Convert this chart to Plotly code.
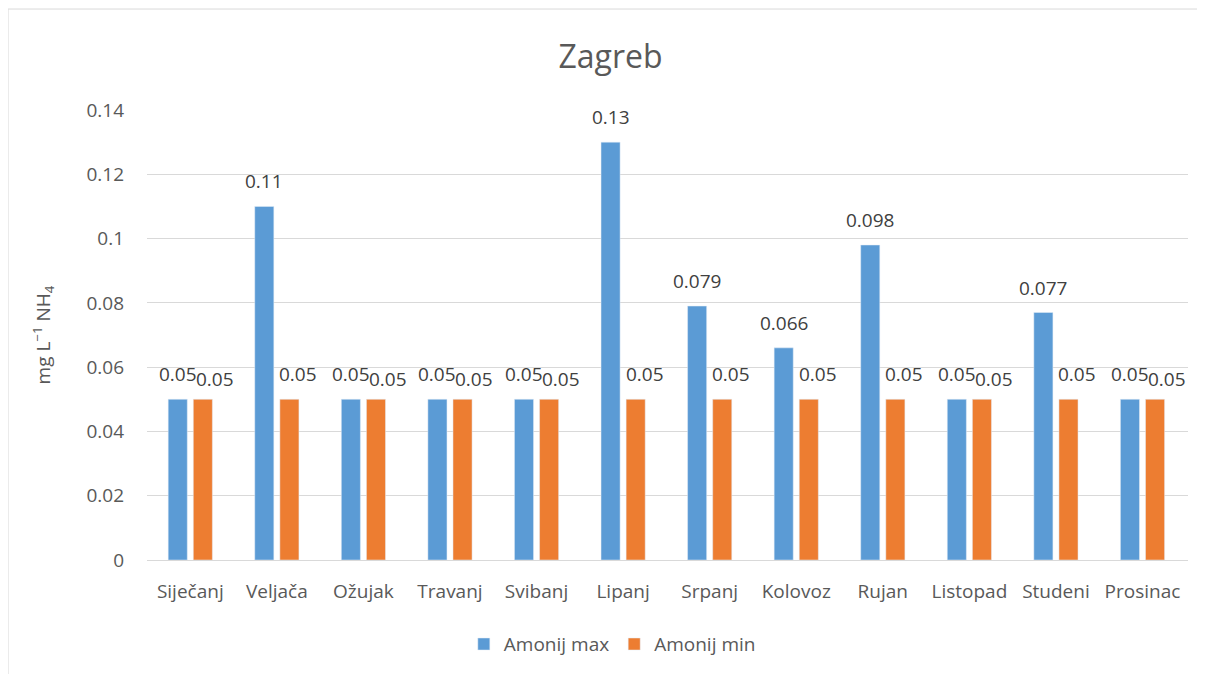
import plotly.graph_objects as go

# Monthly ammonium values (mg/L NH4), Zagreb
months = ['Siječanj', 'Veljača', 'Ožujak', 'Travanj', 'Svibanj', 'Lipanj',
          'Srpanj', 'Kolovoz', 'Rujan', 'Listopad', 'Studeni', 'Prosinac']
amonij_max = [0.05, 0.11, 0.05, 0.05, 0.05, 0.13, 0.079, 0.066, 0.098, 0.05, 0.077, 0.05]
amonij_min = [0.05, 0.05, 0.05, 0.05, 0.05, 0.05, 0.05, 0.05, 0.05, 0.05, 0.05, 0.05]
y_ticks = [0, 0.02, 0.04, 0.06, 0.08, 0.1, 0.12, 0.14]
y_tick_text = ['0', '0.02', '0.04', '0.06', '0.08', '0.1', '0.12', '0.14']

font_family = 'Open Sans, Noto Sans, sans-serif'
grey = '#595959'
label_col = '#404040'
fs = 19

fig = go.Figure()
fig.add_trace(go.Bar(x=months, y=amonij_max, name='Amonij max', marker_color='#5B9BD5'))
fig.add_trace(go.Bar(x=months, y=amonij_min, name='Amonij min', marker_color='#ED7D31'))

# Data labels, placed like Excel does (orange nudged right / down when they collide)
for m, hi, lo in zip(months, amonij_max, amonij_min):
    same = hi == lo
    fig.add_annotation(x=m, y=hi, text=f'{hi:g}', showarrow=False,
                       xshift=-12.5, yshift=25, yanchor='middle',
                       font=dict(size=fs, color=label_col))
    fig.add_annotation(x=m, y=lo, text=f'{lo:g}', showarrow=False,
                       xshift=12.5 + (12 if same else 9), yshift=20 if same else 25,
                       yanchor='middle', font=dict(size=fs, color=label_col))

# Outer chart border
fig.add_shape(type='rect', xref='paper', yref='paper',
              x0=-0.1335, x1=1.0096, y0=-0.3, y1=1.2244,
              line=dict(color='#d9d9d9', width=1), layer='below')

fig.update_layout(
    width=1205, height=674,
    margin=dict(l=139, r=25, t=102, b=122),
    title=dict(text='Zagreb', x=0.5, xanchor='center', y=0.927, yanchor='middle',
               font=dict(size=32, color=grey, family=font_family)),
    font=dict(family=font_family, color=grey, size=fs),
    plot_bgcolor='white', paper_bgcolor='white',
    barmode='group', bargap=0.42, bargroupgap=0.24,
    yaxis=dict(range=[0, 0.14], tickvals=y_ticks, ticktext=y_tick_text,
               gridcolor='#d9d9d9', gridwidth=1, zeroline=False,
               showline=False, ticks='', ticklabelstandoff=22, automargin=False,
               tickfont=dict(size=fs, color=grey),
               title=dict(text='mg L<sup>−1</sup> NH<sub>4</sub>', standoff=30,
                          font=dict(size=fs, color=grey))),
    xaxis=dict(showline=True, linecolor='#d9d9d9', linewidth=1, ticks='',
               automargin=False, ticklabelstandoff=14,
               tickfont=dict(size=fs, color=grey)),
    legend=dict(orientation='h', x=0.447, xanchor='center', y=-0.187, yanchor='middle',
                font=dict(size=fs, color=grey), itemwidth=30),
)

fig.write_html('out.html')
